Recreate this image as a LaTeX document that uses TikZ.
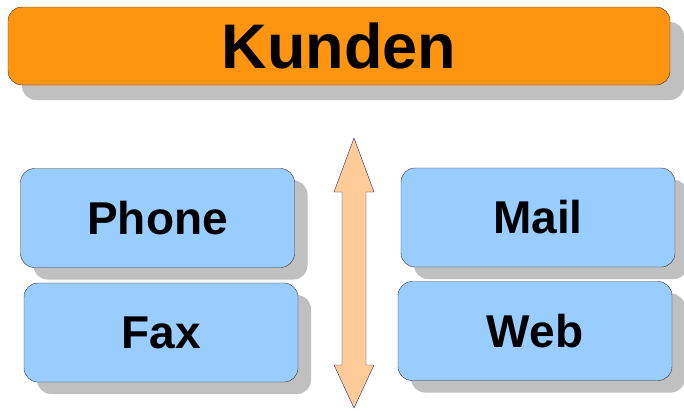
\documentclass[tikz,border=0pt]{standalone}
\usepackage{fontspec}
\setmainfont{Liberation Sans}
\usetikzlibrary{shadows}
\definecolor{kundenorange}{HTML}{FF950E}
\definecolor{kanalblau}{HTML}{99CCFF}
\definecolor{pfeilfarbe}{HTML}{FFCC99}
\definecolor{schatten}{HTML}{C0C0C0}
\definecolor{rand}{HTML}{333333}
\begin{document}
\begin{tikzpicture}[x=1pt,y=-1pt,
titel/.style ={rectangle, draw=rand, fill=kundenorange,
  rounded corners=14pt, minimum width=662pt, minimum height=78pt,
  font=\bfseries\fontsize{63}{70}\selectfont,
  drop shadow={shadow xshift=14pt, shadow yshift=-15pt, fill=schatten, opacity=1}
},
kanal/.style ={rectangle, draw=rand, fill=kanalblau,
  rounded corners=14pt, minimum width=274pt, minimum height=99pt,
  font=\bfseries\fontsize{46}{52}\selectfont,
  drop shadow={shadow xshift=13pt, shadow yshift=-12pt, fill=schatten, opacity=1}
}]
\useasboundingbox (0,0) rectangle (684,410);
\node (kunden) at (339,46) [titel] {Kunden};
\node (phone) at (157.5,218) [kanal] {Phone};
\node (fax) at (161,332.5) [kanal] {Fax};
\node (mail) at (538,217.5) [kanal] {Mail};
\node (web) at (535,331) [kanal] {Web};
% Doppelpfeil
\draw[draw=rand!80!blue, fill=pfeilfarbe] (354,138) -- (374,192) -- (366,192) -- (366,365)
  -- (374,365) -- (354,408) -- (334,365) -- (342,365) -- (342,192) -- (334,192) -- cycle;
\end{tikzpicture}
\end{document}
